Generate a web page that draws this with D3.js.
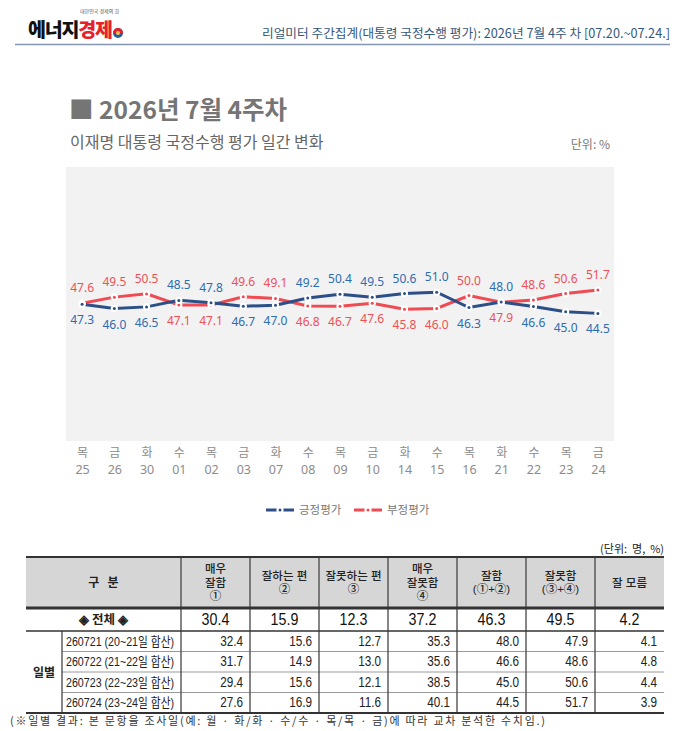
<!DOCTYPE html>
<html>
<head>
<meta charset="utf-8">
<script src="https://cdn.jsdelivr.net/npm/d3@7"></script>
<style>
  html, body { margin: 0; padding: 0; background: #fff; }
  svg { display: block; }
  .kr { font-family: "Noto Sans CJK KR", "Noto Sans", sans-serif; }
  .num { font-family: "Noto Sans", "Noto Sans CJK KR", sans-serif; }
  .tbl { font-family: "Liberation Sans", "Noto Sans CJK KR", sans-serif; }
</style>
</head>
<body>
<div id="chart"></div>
<script>
// daily approval chart + summary table
const weekdays = ['목', '금', '화', '수', '목', '금', '화', '수', '목', '금', '화', '수', '목', '화', '수', '목', '금'];
const days = ['25', '26', '30', '01', '02', '03', '07', '08', '09', '10', '14', '15', '16', '21', '22', '23', '24'];
const positive = [47.3, 46.0, 46.5, 48.5, 47.8, 46.7, 47.0, 49.2, 50.4, 49.5, 50.6, 51.0, 46.3, 48.0, 46.6, 45.0, 44.5];
const negative = [47.6, 49.5, 50.5, 47.1, 47.1, 49.6, 49.1, 46.8, 46.7, 47.6, 45.8, 46.0, 50.0, 47.9, 48.6, 50.6, 51.7];
const seriesNames = ['긍정평가', '부정평가'];

const tableHeaders = [
  ['매우', '잘함', '①'],
  ['잘하는 편', '②'],
  ['잘못하는 편', '③'],
  ['매우', '잘못함', '④'],
  ['잘함', '(①+②)'],
  ['잘못함', '(③+④)'],
  ['잘 모름']
];
const totalRow = [30.4, 15.9, 12.3, 37.2, 46.3, 49.5, 4.2];
const dailyLabels = ['260721 (20~21일 합산)', '260722 (21~22일 합산)', '260723 (22~23일 합산)', '260724 (23~24일 합산)'];
const dailyRows = [
  [32.4, 15.6, 12.7, 35.3, 48.0, 47.9, 4.1],
  [31.7, 14.9, 13.0, 35.6, 46.6, 48.6, 4.8],
  [29.4, 15.6, 12.1, 38.5, 45.0, 50.6, 4.4],
  [27.6, 16.9, 11.6, 40.1, 44.5, 51.7, 3.9]
];

const W = 697, H = 731;
const BLUE_LINE = '#2b4f86', BLUE_TXT = '#2c6cb3';
const RED_LINE = '#f04a52', RED_TXT = '#ef5058';

const svg = d3.select('#chart').append('svg').attr('width', W).attr('height', H);

// ---- page header
const logo = svg.append('g').attr('class', 'kr');
logo.append('text').attr('x', 80).attr('y', 13).attr('font-size', 5).attr('fill', '#555').text('대한민국 경제의 힘');
const lt = logo.append('text').attr('x', 28).attr('y', 37).attr('font-size', 19.5).attr('font-weight', 900).attr('letter-spacing', -1.2);
lt.append('tspan').attr('fill', '#111').text('에너지');
lt.append('tspan').attr('fill', '#e5222b').text('경제');
logo.append('circle').attr('cx', 118).attr('cy', 33).attr('r', 5).attr('fill', '#2a5aa8');
logo.append('path').attr('d', 'M113,33 A5,5 0 0,1 123,33 Z').attr('fill', '#e5222b');
logo.append('circle').attr('cx', 118).attr('cy', 33).attr('r', 2).attr('fill', '#f5c542');

svg.append('text').attr('class', 'kr')
  .attr('x', 670).attr('y', 38).attr('text-anchor', 'end')
  .attr('font-size', 12.5).attr('fill', '#35577a')
  .attr('textLength', 408).attr('lengthAdjust', 'spacingAndGlyphs')
  .text('리얼미터 주간집계(대통령  국정수행  평가): 2026년 7월 4주 차 [07.20.~07.24.]');
svg.append('line').attr('x1', 15).attr('x2', 670).attr('y1', 44.5).attr('y2', 44.5)
  .attr('stroke', '#8496b3').attr('stroke-width', 1.6);

// ---- titles
svg.append('text').attr('class', 'kr').attr('x', 69).attr('y', 119)
  .attr('font-size', 24.5).attr('font-weight', 700).attr('fill', '#757575')
  .text('■ 2026년 7월 4주차');
svg.append('text').attr('class', 'kr').attr('x', 70).attr('y', 148)
  .attr('font-size', 16).attr('fill', '#666')
  .text('이재명 대통령 국정수행 평가 일간 변화');
svg.append('text').attr('class', 'kr').attr('x', 610).attr('y', 149).attr('text-anchor', 'end')
  .attr('font-size', 12).attr('fill', '#777').text('단위: %');

// ---- chart
const panel = { x0: 66, x1: 614, y0: 167, y1: 441 };
svg.append('rect').attr('x', panel.x0).attr('y', panel.y0)
  .attr('width', panel.x1 - panel.x0).attr('height', panel.y1 - panel.y0).attr('fill', '#f2f2f2');

const idx = d3.range(days.length);
const x = d3.scalePoint().domain(idx).range([panel.x0, panel.x1]).padding(0.5);
const y = d3.scaleLinear().domain([0, 100]).range([458, 133]);

const xAxis = svg.append('g').attr('class', 'kr').attr('transform', `translate(0,${panel.y1})`)
  .call(d3.axisBottom(x).tickSize(0).tickFormat(() => ''));
xAxis.select('.domain').remove();
xAxis.selectAll('.tick').each(function (i) {
  const t = d3.select(this);
  t.append('text').attr('y', 16).attr('fill', '#8c8c8c').attr('font-size', 12)
    .attr('text-anchor', 'middle').text(weekdays[i]);
  t.append('text').attr('y', 33).attr('fill', '#8c8c8c').attr('font-size', 12.5)
    .attr('class', 'num').attr('text-anchor', 'middle').text(days[i]);
});

const line = d3.line().x((d, i) => x(i)).y(d => y(d));
const series = [
  { vals: negative, line: RED_LINE, txt: RED_TXT, other: positive },
  { vals: positive, line: BLUE_LINE, txt: BLUE_TXT, other: negative }
];
series.forEach(s => {
  svg.append('path').datum(s.vals).attr('d', line)
    .attr('fill', 'none').attr('stroke', s.line).attr('stroke-width', 3);
});
series.forEach(s => {
  const g = svg.append('g');
  g.selectAll('circle.o').data(s.vals).join('circle').attr('class', 'o')
    .attr('cx', (d, i) => x(i)).attr('cy', d => y(d)).attr('r', 3.6).attr('fill', '#fff');
  g.selectAll('circle.c').data(s.vals).join('circle').attr('class', 'c')
    .attr('cx', (d, i) => x(i)).attr('cy', d => y(d)).attr('r', 1.5).attr('fill', s.line);
  g.selectAll('text').data(s.vals).join('text').attr('class', 'num')
    .attr('x', (d, i) => x(i))
    .attr('y', (d, i) => d >= s.other[i] && !(d === s.other[i] && s.vals === negative) ? y(d) - 11 : y(d) + 20)
    .attr('text-anchor', 'middle').attr('font-size', 12).attr('fill', s.txt)
    .text(d => d.toFixed(1));
});

// legend
const legend = svg.append('g').attr('class', 'kr').attr('transform', 'translate(0,510)');
[[266, BLUE_LINE], [354, RED_LINE]].forEach(([lx, c], k) => {
  legend.append('line').attr('x1', lx).attr('x2', lx + 28).attr('stroke', c).attr('stroke-width', 3);
  legend.append('circle').attr('cx', lx + 14).attr('r', 3.6).attr('fill', '#fff');
  legend.append('circle').attr('cx', lx + 14).attr('r', 1.5).attr('fill', c);
  legend.append('text').attr('x', lx + 33).attr('y', 4).attr('font-size', 11.5).attr('fill', '#777').text(seriesNames[k]);
});

// ---- table
svg.append('text').attr('class', 'kr').attr('x', 664).attr('y', 553).attr('text-anchor', 'end')
  .attr('font-size', 11).attr('fill', '#222').attr('xml:space', 'preserve').text('(단위:  명,  %)');

const T = { x0: 26, xl: 62, xc: 181, x1: 664, top: 557, head: 608, tot: 631, bottom: 713 };
const col = d3.scaleBand().domain(d3.range(totalRow.length)).range([T.xc, T.x1]);
const row = d3.scaleBand().domain(d3.range(dailyRows.length)).range([T.tot, T.bottom]);

const tb = svg.append('g');
tb.append('rect').attr('x', T.x0).attr('y', T.top).attr('width', T.x1 - T.x0).attr('height', T.head - T.top).attr('fill', '#d6d6d6');

// narrow number text, drawn at (px, py)
function narrow(px, py, s, size, anchor, fill) {
  return tb.append('text').attr('class', 'tbl')
    .attr('transform', `translate(${px},${py}) scale(0.84,1)`)
    .attr('text-anchor', anchor).attr('font-size', size).attr('fill', fill).text(s);
}

// header text
tb.append('text').attr('class', 'kr').attr('x', (T.x0 + T.xc) / 2).attr('y', 587).attr('text-anchor', 'middle')
  .attr('font-size', 12).attr('font-weight', 700).attr('fill', '#222').attr('xml:space', 'preserve').text('구   분');
tableHeaders.forEach((lines, j) => {
  const cy = (T.top + T.head) / 2, lh = 13.5;
  lines.forEach((s, k) => {
    tb.append('text').attr('class', 'tbl')
      .attr('x', col(j) + col.bandwidth() / 2)
      .attr('y', cy + (k - (lines.length - 1) / 2) * lh + 4)
      .attr('text-anchor', 'middle').attr('font-size', 11.5).attr('font-weight', 500).attr('fill', '#222')
      .text(s);
  });
});

// total row
tb.append('text').attr('class', 'kr').attr('x', (T.x0 + T.xc) / 2).attr('y', T.tot - 7).attr('text-anchor', 'middle')
  .attr('font-size', 12.5).attr('font-weight', 700).attr('fill', '#222').text('◈ 전체 ◈');
totalRow.forEach((d, j) => narrow(col(j) + col.bandwidth() / 2, T.tot - 6, d.toFixed(1), 17, 'middle', '#111'));

// daily rows
tb.append('text').attr('class', 'kr').attr('x', (T.x0 + T.xl) / 2).attr('y', (T.tot + T.bottom) / 2 + 4.5)
  .attr('text-anchor', 'middle').attr('font-size', 12).attr('font-weight', 700).attr('fill', '#222').text('일별');
dailyRows.forEach((vals, r) => {
  const by = row(r) + row.bandwidth() / 2 + 4.5;
  tb.append('text').attr('class', 'tbl').attr('x', T.xl + 4).attr('y', by)
    .attr('font-size', 13).attr('fill', '#222')
    .attr('textLength', 108).attr('lengthAdjust', 'spacingAndGlyphs').text(dailyLabels[r]);
  vals.forEach((d, j) => narrow(col(j) + col.bandwidth() - 7, by, d.toFixed(1), 14, 'end', '#222'));
});

// grid lines
const hl = (y0, xa, xb, w, c) => tb.append('line').attr('x1', xa).attr('x2', xb).attr('y1', y0).attr('y2', y0).attr('stroke', c).attr('stroke-width', w);
const vl = (x0, ya, yb, w, c) => tb.append('line').attr('x1', x0).attr('x2', x0).attr('y1', ya).attr('y2', yb).attr('stroke', c).attr('stroke-width', w);
row.domain().slice(1).forEach(r => hl(row(r), T.xl, T.x1, 1, '#9a9a9a'));
col.domain().forEach(j => vl(col(j), T.top, T.bottom, 1.3, '#444'));
vl(T.xl, T.tot, T.bottom, 1.3, '#444');
hl(T.top, T.x0, T.x1, 2.2, '#333');
hl(T.head, T.x0, T.x1, 3, '#333');
hl(T.tot, T.x0, T.x1, 1.5, '#333');
hl(T.bottom, T.x0, T.x1, 2.2, '#333');

svg.append('text').attr('class', 'kr').attr('x', 10).attr('y', 725)
  .attr('font-size', 11).attr('fill', '#333')
  .attr('textLength', 535).attr('lengthAdjust', 'spacing')
  .text('(※일별 결과: 본 문항을 조사일(예: 월 · 화/화 · 수/수 · 목/목 · 금)에 따라 교차 분석한 수치임.)');
</script>
</body>
</html>
